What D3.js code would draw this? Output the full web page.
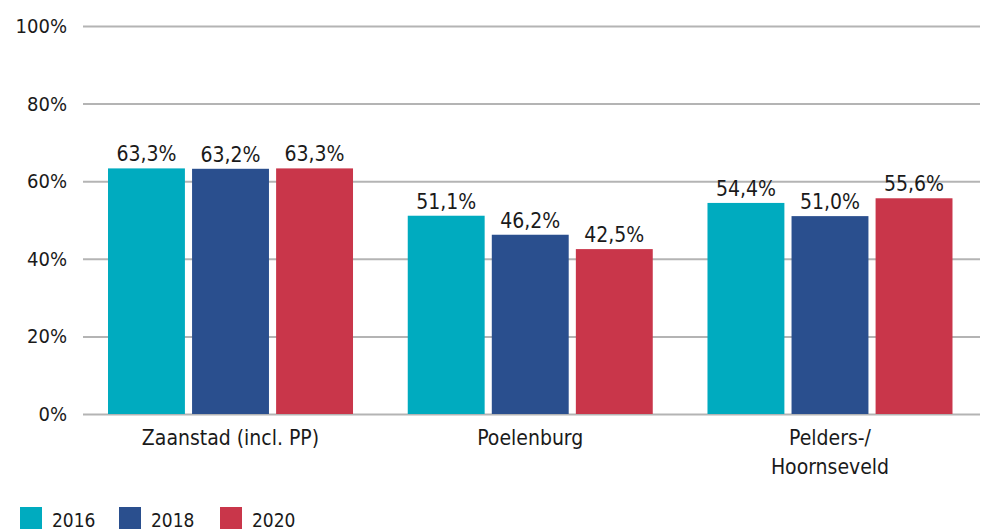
<!DOCTYPE html>
<html>
<head>
<meta charset="utf-8">
<script src="https://cdn.jsdelivr.net/npm/d3@7"></script>
<style>
  html, body { margin: 0; padding: 0; background: #fff; }
  svg text { font-family: "DejaVu Sans Condensed", "DejaVu Sans", sans-serif; fill: #1a1a1a; }
</style>
</head>
<body>
<svg id="chart" width="991" height="531"></svg>
<script>
const categories = [["Zaanstad (incl. PP)"], ["Poelenburg"], ["Pelders-/", "Hoornseveld"]];
const years = ["2016", "2018", "2020"];
const values2016 = [63.3, 51.1, 54.4];
const values2018 = [63.2, 46.2, 51.0];
const values2020 = [63.3, 42.5, 55.6];
const yTicks = [0, 20, 40, 60, 80, 100];
const colors = ["#00abbf", "#2a4f8e", "#c9364a"];

const series = [values2016, values2018, values2020];
const svg = d3.select("#chart");

const plot = { left: 83, right: 980, top: 26, bottom: 414 };

const x0 = d3.scaleBand()
  .domain(d3.range(categories.length))
  .range([plot.left - 1.25, plot.right - 1.25])
  .paddingInner(0.1826)
  .paddingOuter(0.0876);

const x1 = d3.scaleBand()
  .domain(d3.range(years.length))
  .range([0, x0.bandwidth()])
  .paddingInner(0.085);

const y = d3.scaleLinear().domain([0, 100]).range([plot.bottom, plot.top]);

// horizontal grid lines and percentage labels
const yAxis = d3.axisLeft(y)
  .tickValues(yTicks)
  .tickSize(-(plot.right - plot.left))
  .tickPadding(16)
  .tickFormat(d => d + "%");

const gy = svg.append("g").attr("transform", `translate(${plot.left},0)`).call(yAxis);
gy.select(".domain").remove();
gy.selectAll(".tick line").attr("stroke", "#b4b4b4").attr("stroke-width", 2);
gy.selectAll(".tick text")
  .attr("font-size", 20)
  .attr("fill", "#1a1a1a")
  .style("font-family", "'DejaVu Sans Condensed', sans-serif");

// grouped bars
const groups = svg.append("g")
  .selectAll("g")
  .data(categories.map((c, i) => i))
  .join("g")
  .attr("transform", i => `translate(${x0(i)},0)`);

groups.selectAll("rect")
  .data(i => series.map((s, k) => ({ k, v: s[i] })))
  .join("rect")
  .attr("x", d => x1(d.k))
  .attr("width", x1.bandwidth())
  .attr("y", d => y(d.v))
  .attr("height", d => y(0) - y(d.v))
  .attr("fill", d => colors[d.k]);

// value labels above each bar
groups.selectAll("text.val")
  .data(i => series.map((s, k) => ({ k, v: s[i] })))
  .join("text")
  .attr("class", "val")
  .attr("x", d => x1(d.k) + x1.bandwidth() / 2)
  .attr("y", d => y(d.v) - 7)
  .attr("text-anchor", "middle")
  .attr("font-size", 21)
  .text(d => d3.format(".1f")(d.v).replace(".", ",") + "%");

// category labels (may wrap over two lines)
const catLabels = svg.append("g")
  .selectAll("text")
  .data(categories)
  .join("text")
  .attr("x", (d, i) => x0(i) + x0.bandwidth() / 2)
  .attr("y", 445)
  .attr("text-anchor", "middle")
  .attr("font-size", 21);

catLabels.selectAll("tspan")
  .data(d => d)
  .join("tspan")
  .attr("x", function () { return this.parentNode.getAttribute("x"); })
  .attr("dy", (d, j) => j === 0 ? 0 : 29)
  .text(d => d);

// legend
const legend = svg.append("g").attr("transform", "translate(20,507)");
const legendX = [0, 99, 200];
const items = legend.selectAll("g")
  .data(years)
  .join("g")
  .attr("transform", (d, i) => `translate(${legendX[i]},0)`);
items.append("rect")
  .attr("width", 22)
  .attr("height", 22)
  .attr("fill", (d, i) => colors[i]);
items.append("text")
  .attr("x", 32)
  .attr("y", 20)
  .attr("font-size", 19)
  .text(d => d);
</script>
</body>
</html>
